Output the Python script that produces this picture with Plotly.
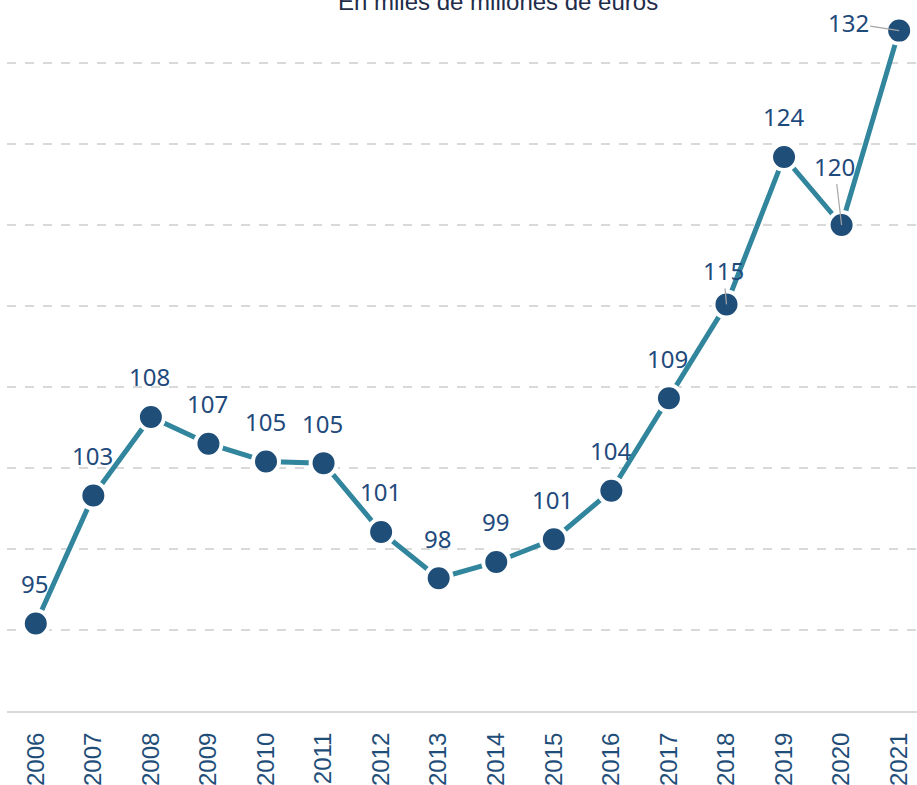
import plotly.graph_objects as go

years = list(range(2006, 2022))
values = [95.4, 103.3, 108.15, 106.5, 105.4, 105.3, 101.05, 98.2, 99.2, 100.6,
          103.6, 109.3, 115.1, 124.2, 120.0, 132.0]
labels = ["95", "103", "108", "107", "105", "105", "101", "98", "99", "101",
          "104", "109", "115", "124", "120", "132"]
gridvals = [95, 100, 105, 110, 115, 120, 125, 130]
title_text = "En miles de millones de euros"

LINE = "#31859C"
MARK = "#1F4E79"
LABEL = "#1F4A7C"

fig = go.Figure()
fig.add_trace(go.Scatter(
    x=years, y=values, mode="lines+markers",
    line=dict(color=LINE, width=5),
    marker=dict(color=MARK, size=26, line=dict(color="white", width=4)),
    hoverinfo="skip", showlegend=False,
))

arrow_labels = {2018: (-3, -34), 2020: (-7, -59), 2021: (-51, -8)}
for yr, v, lab in zip(years, values, labels):
    if yr in arrow_labels:
        ax, ay = arrow_labels[yr]
        fig.add_annotation(x=yr, y=v, text=lab, showarrow=True, arrowhead=0,
                           arrowwidth=1.2, arrowcolor="#A6A6A6", ax=ax, ay=ay,
                           standoff=0,
                           font=dict(family="Noto Sans", size=24, color=LABEL))
    else:
        fig.add_annotation(x=yr, y=v, text=lab, showarrow=False, yshift=40,
                           xshift=-1,
                           font=dict(family="Noto Sans", size=24, color=LABEL))

fig.add_annotation(xref="paper", yref="paper", x=0.54, y=1, yanchor="middle",
                   text=title_text, showarrow=False, yshift=-1,
                   font=dict(family="Liberation Sans", size=24, color="#1F2D4A"))

fig.update_layout(
    width=917, height=785,
    margin=dict(l=7, r=0, t=0, b=74),
    plot_bgcolor="white", paper_bgcolor="white",
    xaxis=dict(range=[2005.5, 2021.31], tickvals=years, ticktext=[str(y) for y in years],
               tickangle=-90, showgrid=False, zeroline=False,
               showline=True, linecolor="#D9D9D9", linewidth=2,
               ticklabelstandoff=10,
               tickfont=dict(family="Liberation Sans", size=24, color=MARK)),
    yaxis=dict(range=[90, 90 + 711 / 16.2], tickvals=gridvals, showticklabels=False,
               showgrid=True, gridcolor="#D9D9D9", griddash="dash", gridwidth=1.5,
               zeroline=False, showline=False),
)

fig.write_html("out.html", config={"displayModeBar": False},
               post_script="document.body.style.margin='0';")
